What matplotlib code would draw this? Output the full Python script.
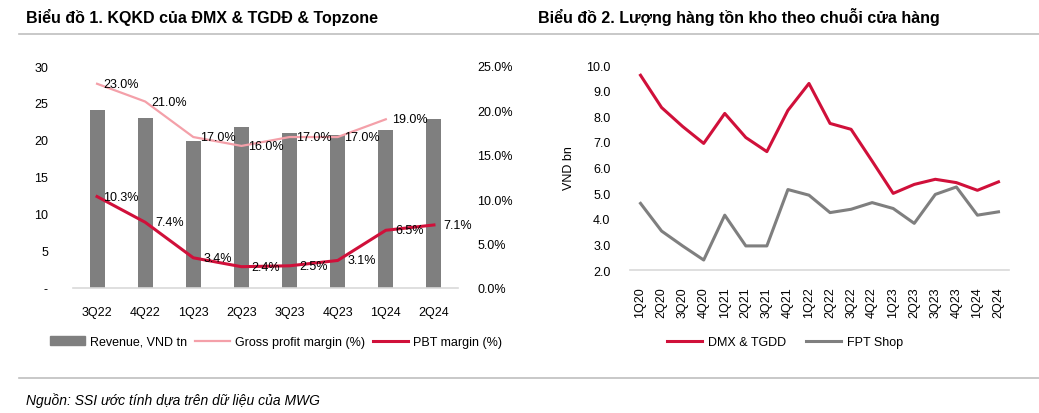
import matplotlib
matplotlib.use('Agg')
import matplotlib.pyplot as plt
from matplotlib import font_manager
from matplotlib.lines import Line2D
from matplotlib.patches import Patch
from matplotlib.ticker import FuncFormatter

# pick a narrow sans if there is one, else Liberation Sans
try:
    font_manager.findfont('Liberation Sans Narrow', fallback_to_default=False)
    FONT = 'Liberation Sans Narrow'
except Exception:
    FONT = 'Liberation Sans'
plt.rcParams['font.family'] = [FONT, 'DejaVu Sans']

# chart 1 data
quarters1 = ['3Q22', '4Q22', '1Q23', '2Q23', '3Q23', '4Q23', '1Q24', '2Q24']
revenue = [24.0, 23.0, 19.8, 21.7, 20.9, 20.7, 21.4, 22.8]
gross_margin = [23.0, 21.0, 17.0, 16.0, 17.0, 17.0, 19.0]
pbt_margin = [10.3, 7.4, 3.4, 2.4, 2.5, 3.1, 6.5, 7.1]

# chart 2 data
quarters2 = ['1Q20', '2Q20', '3Q20', '4Q20', '1Q21', '2Q21', '3Q21', '4Q21', '1Q22',
             '2Q22', '3Q22', '4Q22', '1Q23', '2Q23', '3Q23', '4Q23', '1Q24', '2Q24']
dmx_tgdd = [9.60, 8.34, 7.60, 6.94, 8.11, 7.17, 6.62, 8.23, 9.28,
            7.72, 7.49, 6.25, 4.99, 5.34, 5.54, 5.41, 5.11, 5.44]
fpt_shop = [4.60, 3.52, 2.94, 2.39, 4.14, 2.94, 2.94, 5.14, 4.92,
            4.24, 4.37, 4.63, 4.40, 3.82, 4.95, 5.24, 4.14, 4.27]

GREY = '#7f7f7f'
PINK = '#f4a0a9'
RED = '#d0103a'
BASE = '#d9d9d9'

W, H = 1039, 414
fig = plt.figure(figsize=(W / 100, H / 100), dpi=100)


def box(x0, y0, x1, y1):
    # pixel box (top-left origin) -> figure fraction
    return [x0 / W, 1 - y1 / H, (x1 - x0) / W, (y1 - y0) / H]


def clean(ax):
    for s in ['top', 'left', 'right']:
        ax.spines[s].set_visible(False)
    ax.spines['bottom'].set_color(BASE)
    ax.spines['bottom'].set_linewidth(1.2)
    ax.tick_params(length=0, labelsize=9)


# titles and rules
fig.text(26 / W, 1 - 17 / H, 'Biểu đồ 1. KQKD của ĐMX & TGDĐ & Topzone',
         fontsize=11.5, fontweight='bold', va='center')
fig.text(538 / W, 1 - 17 / H, 'Biểu đồ 2. Lượng hàng tồn kho theo chuỗi cửa hàng',
         fontsize=11.5, fontweight='bold', va='center')
for yy in [35, 379]:
    fig.add_artist(Line2D([19 / W, 1], [1 - yy / H] * 2, color='#bfbfbf', lw=1.2))
fig.text(26 / W, 1 - 401 / H, 'Nguồn: SSI ước tính dựa trên dữ liệu của MWG',
         fontsize=10, style='italic', va='center')

# chart 1
ax1 = fig.add_axes(box(73, 67, 458, 289))
x1 = list(range(len(quarters1)))
ax1.bar(x1, revenue, width=0.31, color=GREY, zorder=1)
ax1.set_xlim(-0.5, len(quarters1) - 0.5)
ax1.set_ylim(0, 30)
ax1.set_yticks([0, 5, 10, 15, 20, 25, 30])
ax1.yaxis.set_major_formatter(FuncFormatter(lambda v, p: '-' if v == 0 else f'{v:.0f}'))
ax1.set_xticks(x1)
ax1.set_xticklabels(quarters1)
clean(ax1)
ax1.tick_params(axis='y', pad=18)
ax1.tick_params(axis='x', pad=13)

ax1b = ax1.twinx()
ax1b.set_ylim(0, 25)
ax1b.set_yticks([0, 5, 10, 15, 20, 25])
ax1b.yaxis.set_major_formatter(FuncFormatter(lambda v, p: f'{v:.1f}%'))
for s in ax1b.spines.values():
    s.set_visible(False)
ax1b.tick_params(length=0, labelsize=9, pad=14)
ax1b.plot(range(len(gross_margin)), gross_margin, color=PINK, lw=1.6, zorder=3)
ax1b.plot(range(len(pbt_margin)), pbt_margin, color=RED, lw=2.2, zorder=3)
# data labels sit half a category to the right of their point, as in the source
for i, v in enumerate(gross_margin):
    ax1b.text(i + 0.5, v, f'{v:.1f}%', fontsize=9, ha='center', va='center', zorder=4)
for i, v in enumerate(pbt_margin):
    ax1b.text(i + 0.5, v, f'{v:.1f}%', fontsize=9, ha='center', va='center', zorder=4)

handles1 = [Patch(color=GREY), Line2D([], [], color=PINK, lw=1.6),
            Line2D([], [], color=RED, lw=2.2)]
fig.legend(handles1, ['Revenue, VND tn', 'Gross profit margin (%)', 'PBT margin (%)'],
           loc='center', bbox_to_anchor=(276 / W, 1 - 343 / H), ncol=3, frameon=False,
           fontsize=9, handlelength=2.8, handletextpad=0.4, columnspacing=0.6)

# chart 2
ax2 = fig.add_axes(box(630, 66, 1009, 271))
x2 = list(range(len(quarters2)))
ax2.plot(x2, dmx_tgdd, color=RED, lw=2.2)
ax2.plot(x2, fpt_shop, color=GREY, lw=2.2)
ax2.set_xlim(-0.5, len(quarters2) - 0.5)
ax2.set_ylim(2, 10)
ax2.set_yticks(range(2, 11))
ax2.yaxis.set_major_formatter(FuncFormatter(lambda v, p: f'{v:.1f}'))
ax2.set_xticks(x2)
ax2.set_xticklabels(quarters2, rotation=90)
clean(ax2)
ax2.tick_params(axis='y', pad=14)
ax2.tick_params(axis='x', pad=12)
ax2.set_ylabel('VND bn', fontsize=9, labelpad=8)

handles2 = [Line2D([], [], color=RED, lw=2.2), Line2D([], [], color=GREY, lw=2.2)]
fig.legend(handles2, ['DMX & TGDD', 'FPT Shop'],
           loc='center', bbox_to_anchor=(785 / W, 1 - 343 / H), ncol=2, frameon=False,
           fontsize=9, handlelength=2.8, handletextpad=0.5, columnspacing=1.6)

fig.savefig('out.png', dpi=100)
